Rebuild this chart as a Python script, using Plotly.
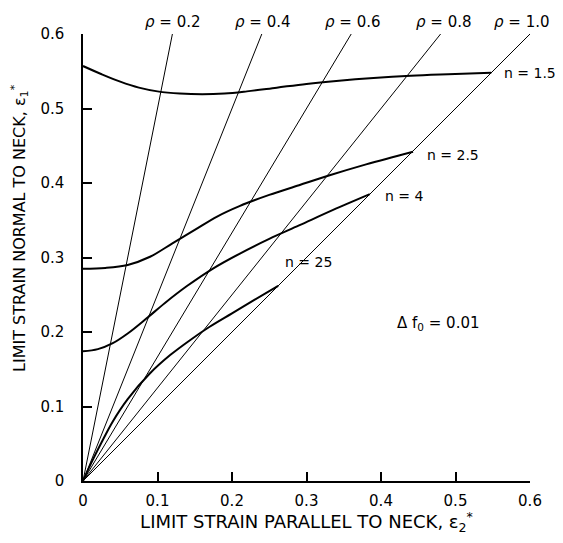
import plotly.graph_objects as go

# strain-path ratios (rho = eps2/eps1)
rho_values = [0.2, 0.4, 0.6, 0.8, 1.0]
rho_top_eps1 = [0.605, 0.605, 0.605, 0.605, 0.600]
rho_labels = ["ρ = 0.2", "ρ = 0.4", "ρ = 0.6", "ρ = 0.8", "ρ = 1.0"]

# forming limit curves for hardening exponents n
n15_e2 = [0, 0.025, 0.05, 0.075, 0.10, 0.13, 0.16, 0.19, 0.22, 0.26, 0.30, 0.34, 0.39, 0.44, 0.49, 0.548]
n15_e1 = [0.557, 0.546, 0.536, 0.528, 0.523, 0.520, 0.519, 0.520, 0.523, 0.528, 0.533, 0.537, 0.541, 0.544, 0.546, 0.548]

n25_e2 = [0, 0.03, 0.06, 0.09, 0.12, 0.15, 0.18, 0.21, 0.25, 0.29, 0.33, 0.38, 0.443]
n25_e1 = [0.285, 0.286, 0.290, 0.301, 0.319, 0.337, 0.355, 0.369, 0.384, 0.397, 0.410, 0.425, 0.442]

n4_e2 = [0, 0.02, 0.04, 0.06, 0.085, 0.11, 0.14, 0.175, 0.21, 0.25, 0.29, 0.335, 0.385]
n4_e1 = [0.174, 0.177, 0.185, 0.198, 0.218, 0.239, 0.262, 0.2855, 0.305, 0.325, 0.343, 0.3635, 0.385]

n250_e2 = [0, 0.01, 0.025, 0.04, 0.06, 0.09, 0.117, 0.1436, 0.17, 0.20, 0.23, 0.262]
n250_e1 = [0, 0.022, 0.052, 0.080, 0.110, 0.1446, 0.169, 0.189, 0.207, 0.225, 0.243, 0.262]

curves = [
    ("n = 1.5", n15_e2, n15_e1),
    ("n = 2.5", n25_e2, n25_e1),
    ("n = 4", n4_e2, n4_e1),
    ("n = 25", n250_e2, n250_e1),
]
curve_label_pos = [(0.562, 0.547), (0.459, 0.438), (0.403, 0.383), (0.268, 0.294)]

tick_vals = [0, 0.1, 0.2, 0.3, 0.4, 0.5, 0.6]
tick_text = ["0", "0.1", "0.2", "0.3", "0.4", "0.5", "0.6"]
X_MAX = 0.6

FONT = "DejaVu Sans"
fig = go.Figure()

for rho, top in zip(rho_values, rho_top_eps1):
    fig.add_trace(go.Scatter(x=[0, rho * top], y=[0, top], mode="lines",
                             line=dict(color="black", width=1), showlegend=False,
                             hoverinfo="skip"))

for name, xs, ys in curves:
    fig.add_trace(go.Scatter(x=xs, y=ys, mode="lines", name=name,
                             line=dict(color="black", width=2, shape="spline", smoothing=1.0),
                             showlegend=False))

annotations = []
for i, (rho, top, lab) in enumerate(zip(rho_values, rho_top_eps1, rho_labels)):
    annotations.append(dict(x=rho * 0.605 / X_MAX, y=1.027, xref="paper", yref="paper",
                            text=lab.replace("ρ", "<i>ρ</i>"), showarrow=False,
                            xanchor="center", yanchor="middle",
                            xshift=-12 if i == len(rho_values) - 1 else 0,
                            font=dict(family=FONT, size=15, color="black")))
for (name, _, _), (lx, ly) in zip(curves, curve_label_pos):
    annotations.append(dict(x=lx, y=ly, xref="x", yref="y", text=name, showarrow=False,
                            xanchor="left", yanchor="middle",
                            font=dict(family=FONT, size=14, color="black")))
annotations.append(dict(x=0.419, y=0.212, xref="x", yref="y",
                        text="Δ f<sub>0</sub> = 0.01", showarrow=False,
                        xanchor="left", yanchor="middle",
                        font=dict(family=FONT, size=15, color="black")))
annotations.append(dict(x=-0.141, y=0.566, xref="paper", yref="paper",
                        text="LIMIT STRAIN NORMAL TO NECK, ε<sub>1</sub><sup>*</sup>",
                        showarrow=False, textangle=-90, xanchor="center", yanchor="middle",
                        font=dict(family=FONT, size=16, color="black")))

axis_common = dict(range=[0, X_MAX], showgrid=False, zeroline=False, showline=True,
                   linecolor="black", linewidth=1.5, ticks="inside", ticklen=9,
                   tickwidth=1.5, tickcolor="black", tickvals=tick_vals, ticktext=tick_text,
                   tickfont=dict(family=FONT, size=15, color="black"), mirror=False,
                   automargin=False)

# the page body adds an 8px margin; size/margins compensate so nothing scrolls
fig.update_layout(
    width=555, height=527,
    margin=dict(l=75, r=33, t=26, b=54),
    paper_bgcolor="white", plot_bgcolor="white",
    xaxis=dict(**axis_common, ticklabelstandoff=5,
               title=dict(text="LIMIT STRAIN PARALLEL TO NECK, ε<sub>2</sub><sup>*</sup>",
                          font=dict(family=FONT, size=18, color="black"), standoff=2)),
    yaxis=dict(**axis_common, ticklabelstandoff=14),
    annotations=annotations,
)

fig.write_html("out.html")
